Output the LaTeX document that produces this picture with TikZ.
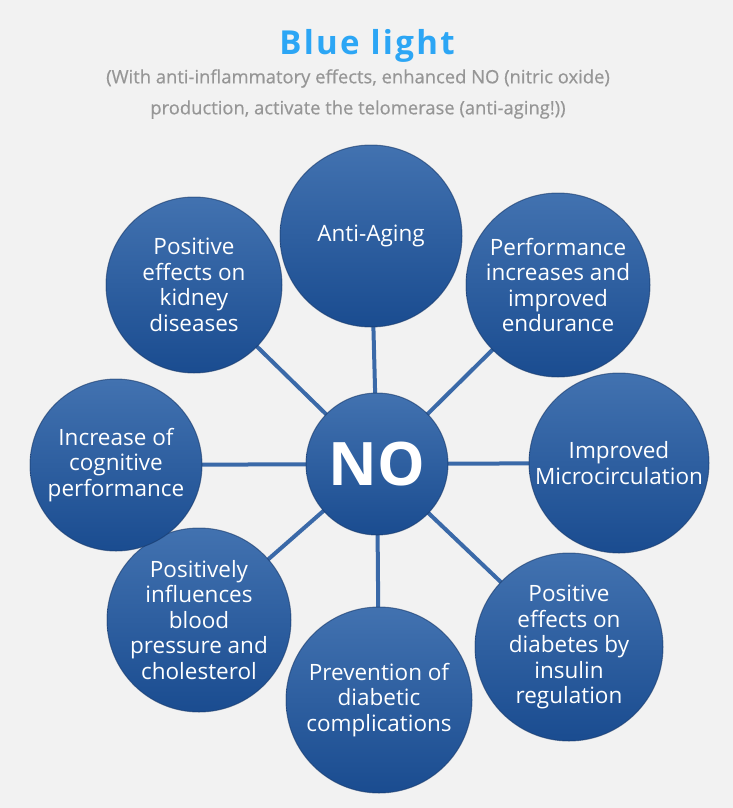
\documentclass[tikz,border=0pt]{standalone}
\usepackage{fontspec}
\setmainfont{Open Sans}
\newfontfamily\titlefont[LetterSpace=7]{Open Sans}
\newfontfamily\subfont[FakeBold=0.4]{Open Sans}
\usetikzlibrary{backgrounds}
\definecolor{bgc}{RGB}{242,242,242}
\definecolor{titleblue}{RGB}{44,166,245}
\definecolor{subgray}{RGB}{150,150,150}
\definecolor{linkblue}{RGB}{58,105,168}
\definecolor{topblue}{RGB}{66,114,176}
\definecolor{botblue}{RGB}{26,76,144}
\definecolor{rimblue}{RGB}{24,58,108}
\begin{document}
\begin{tikzpicture}[x=1pt,y=-1pt,
  conn/.style={draw=linkblue, line width=4pt},
  bubble/.style={circle, minimum size=#1, inner sep=0pt,
    top color=topblue, bottom color=botblue, draw=rimblue, draw opacity=0.6, line width=1pt,
    text=white, align=center, font=\fontsize{22.5}{25.5}\selectfont},
  hub/.style={bubble=#1, font=\fontsize{60}{60}\selectfont\bfseries}
]
\useasboundingbox (0,0) rectangle (733,808);
\begin{scope}[on background layer]
\fill[bgc] (0,0) rectangle (733,808);
\end{scope}

\node[text=titleblue, font=\titlefont\fontsize{33}{33}\selectfont\bfseries] (title) at (367,46) {Blue light};
\node[text=subgray, align=center, font=\subfont\fontsize{18.4}{31}\selectfont] (sub) at (358,94)
  {(With anti-inflammatory effects, enhanced NO (nitric oxide)\\production, activate the telomerase (anti-aging!))};

\node[hub=142] (no) at (377,464) {NO};
\node[bubble=182] (aging) at (371,236) {Anti-Aging};
\node[bubble=184] (perf) at (558,285) {Performance\\increases and\\improved\\endurance};
\node[bubble=180] (micro) at (619,463) {Improved\\Microcirculation};
\node[bubble=188] (diab) at (569,647) {Positive\\effects on\\diabetes by\\insulin\\regulation};
\node[bubble=186] (prev) at (379,700) {Prevention of\\diabetic\\complications};
\node[bubble=184] (bp) at (199,620) {Positively\\influences\\blood\\pressure and\\cholesterol};
\node[bubble=172] (cog) at (116,465) {Increase of\\cognitive\\performance};
\node[bubble=176] (kid) at (194,285) {Positive\\effects on\\kidney\\diseases};

\begin{scope}[on background layer]
\foreach \t in {aging,perf,micro,diab,prev,bp,cog,kid}
  \draw[conn] (no.center) -- (\t.center);
\end{scope}
\end{tikzpicture}
\end{document}
